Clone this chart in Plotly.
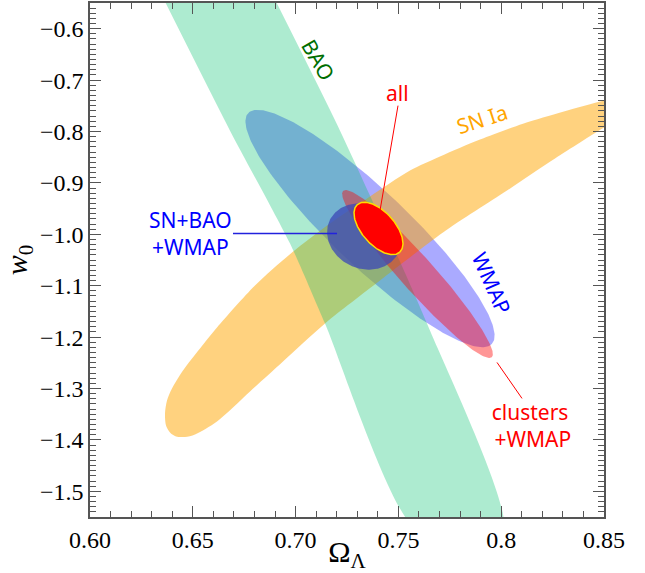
import numpy as np
import plotly.graph_objects as go

# ---------------- data ----------------
# BAO band edges (Omega_Lambda, w0)
bao_left_x = [0.6343, 0.6681, 0.6973, 0.7143, 0.7577]
bao_left_y = [-0.53, -0.7983, -1.0180, -1.1735, -1.57]
bao_right_x = [0.6883, 0.7216, 0.7639, 0.8007]
bao_right_y = [-0.53, -0.7983, -1.1735, -1.57]

# SN Ia band edges (upper edge right->left, lower edge left->right)
sn_upper_x = [0.86021, 0.84951, 0.83006, 0.81060, 0.78969, 0.77023, 0.75564, 0.73619, 0.71673,
              0.69825, 0.68025, 0.66177, 0.65350, 0.64523, 0.63988, 0.63745, 0.63648]
sn_upper_y = [-0.72831, -0.73997, -0.76135, -0.78468, -0.81579, -0.84883, -0.87605, -0.92659, -0.97908,
              -1.03546, -1.09961, -1.18126, -1.22208, -1.26485, -1.29984, -1.32317, -1.34844]
sn_lower_x = [0.63696, 0.63891, 0.64183, 0.64621, 0.65107, 0.66177, 0.67782, 0.69387, 0.71430,
              0.74105, 0.77169, 0.80282, 0.82617, 0.85000, 0.86021]
sn_lower_y = [-1.37177, -1.38538, -1.39316, -1.39413, -1.38927, -1.36400, -1.30568, -1.24736, -1.17348,
              -1.08989, -0.99658, -0.91493, -0.85272, -0.79246, -0.76913]

# ellipses: centre and two conjugate half-axis vectors (data units)
wmap_center = [0.73619, -0.98880]
wmap_u = [0.05924, -0.2247]
wmap_v = [0.01271, 0.05358]

clusters_center = [0.75929, -1.07726]
clusters_u = [0.03613, -0.16194]
clusters_v = [0.00618, 0.02201]

snbaowmap_center = [0.73327, -1.00436]
snbaowmap_u = [0.01673, -0.03130]
snbaowmap_v = [0.00657, 0.05638]

all_center = [0.74032, -0.98861]
all_u = [0.01031, -0.04627]
all_v = [0.00598, 0.02138]

x_ticks = [0.60, 0.65, 0.70, 0.75, 0.80, 0.85]
x_ticktext = ["0.60", "0.65", "0.70", "0.75", "0.8", "0.85"]
y_ticks = [-0.6, -0.7, -0.8, -0.9, -1.0, -1.1, -1.2, -1.3, -1.4, -1.5]
y_ticktext = ["\u22120.6", "\u22120.7", "\u22120.8", "\u22120.9", "\u22121.0",
              "\u22121.1", "\u22121.2", "\u22121.3", "\u22121.4", "\u22121.5"]


def ellipse(c, u, v, n=240):
    t = np.linspace(0, 2 * np.pi, n)
    x = c[0] + u[0] * np.cos(t) + v[0] * np.sin(t)
    y = c[1] + u[1] * np.cos(t) + v[1] * np.sin(t)
    return x, y


fig = go.Figure()

# WMAP
wx, wy = ellipse(wmap_center, wmap_u, wmap_v)
fig.add_trace(go.Scatter(x=wx, y=wy, mode="lines", fill="toself", line=dict(width=0),
                         fillcolor="rgba(0,0,255,0.333)", name="WMAP", hoverinfo="skip"))
# SN Ia
fig.add_trace(go.Scatter(x=sn_upper_x + sn_lower_x, y=sn_upper_y + sn_lower_y, mode="lines",
                         fill="toself", line=dict(width=0, shape="spline", smoothing=0.8),
                         fillcolor="rgba(255,165,0,0.5)", name="SN Ia", hoverinfo="skip"))
# BAO
fig.add_trace(go.Scatter(x=bao_left_x + bao_right_x[::-1], y=bao_left_y + bao_right_y[::-1],
                         mode="lines", fill="toself", line=dict(width=0, shape="spline", smoothing=0.6),
                         fillcolor="rgba(0,192,108,0.32)", name="BAO", hoverinfo="skip"))
# clusters + WMAP
cx, cy = ellipse(clusters_center, clusters_u, clusters_v)
fig.add_trace(go.Scatter(x=cx, y=cy, mode="lines", fill="toself", line=dict(width=0),
                         fillcolor="rgba(255,0,0,0.41)", name="clusters+WMAP", hoverinfo="skip"))
# SN+BAO+WMAP
sx, sy = ellipse(snbaowmap_center, snbaowmap_u, snbaowmap_v)
fig.add_trace(go.Scatter(x=sx, y=sy, mode="lines", fill="toself", line=dict(width=0),
                         fillcolor="rgba(60,72,182,0.76)", name="SN+BAO+WMAP", hoverinfo="skip"))
# all
ax_, ay_ = ellipse(all_center, all_u, all_v)
fig.add_trace(go.Scatter(x=ax_, y=ay_, mode="lines", fill="toself", line=dict(width=1.5, color="#ffdd00"),
                         fillcolor="#ff0000", name="all", hoverinfo="skip"))

# leader lines
fig.add_trace(go.Scatter(x=[0.74981, 0.74105], y=[-0.74969, -0.95381], mode="lines",
                         line=dict(color="red", width=1), hoverinfo="skip"))
fig.add_trace(go.Scatter(x=[0.79796, 0.81012], y=[-1.24930, -1.31929], mode="lines",
                         line=dict(color="red", width=1), hoverinfo="skip"))
fig.add_trace(go.Scatter(x=[0.66955, 0.72014], y=[-0.99852, -0.99852], mode="lines",
                         line=dict(color="#2222dd", width=1.5), hoverinfo="skip"))

lab_font = "Noto Sans"
anns = [
    dict(x=0.71119, y=-0.66027, text="BAO", textangle=60, font=dict(color="#006e00", size=21)),
    dict(x=0.79066, y=-0.77496, text="SN Ia", textangle=-18, font=dict(color="#ffa500", size=21)),
    dict(x=0.79553, y=-1.09378, text="WMAP", textangle=66, font=dict(color="#0000ff", size=21)),
    dict(x=0.74932, y=-0.72442, text="all", textangle=0, font=dict(color="#ff0000", size=21)),
    dict(x=0.81401, y=-1.37177, text="clusters<br> +WMAP", textangle=0, font=dict(color="#ff0000", size=21)),
    dict(x=0.64864, y=-0.99852, text="SN+BAO<br>+WMAP", textangle=0, font=dict(color="#0000ff", size=21)),
]
for a in anns:
    a["font"]["family"] = lab_font
    fig.add_annotation(x=a["x"], y=a["y"], text=a["text"], textangle=a["textangle"], font=a["font"],
                       showarrow=False, xref="x", yref="y", align="center")

serif = "Liberation Serif, Times New Roman, serif"
axis_common = dict(
    showgrid=False, zeroline=False, showline=True, linecolor="#555555", linewidth=1.5,
    mirror="ticks", ticks="inside", ticklen=11, tickwidth=1.2, tickcolor="#555555",
    tickfont=dict(family=serif, size=24, color="black"),
    automargin=False,
)

fig.update_xaxes(range=[0.60, 0.85], tickvals=x_ticks, ticktext=x_ticktext,
                 minor=dict(dtick=0.01, ticks="inside", ticklen=6, tickwidth=1.2, tickcolor="#555555"),
                 title=dict(text="\u03a9<sub>\u039b</sub>", font=dict(family=serif, size=30, color="black"),
                            standoff=2),
                 **axis_common)
fig.update_yaxes(range=[-1.55, -0.55], tickvals=y_ticks, ticktext=y_ticktext,
                 minor=dict(dtick=0.01, ticks="inside", ticklen=6, tickwidth=1.2, tickcolor="#555555"),
                 title=dict(text="<i>w</i><sub>0</sub>", font=dict(family=serif, size=30, color="black"),
                            standoff=6),
                 **axis_common)

fig.update_layout(width=645, height=573, margin=dict(l=90, r=41, t=3, b=56),
                  plot_bgcolor="white", paper_bgcolor="white", showlegend=False)

fig.write_html("out.html")
